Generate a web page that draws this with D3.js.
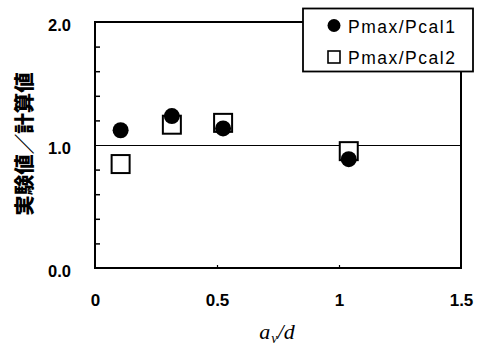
<!DOCTYPE html>
<html><head><meta charset="utf-8">
<script src="https://cdn.jsdelivr.net/npm/d3@7"></script>
<style>body{margin:0;background:#fff}svg{display:block}</style>
</head><body>
<script>
const avd1 = [0.105, 0.315, 0.525, 1.04];
const ratio1 = [1.12, 1.235, 1.135, 0.885];
const avd2 = [0.105, 0.315, 0.525, 1.04];
const ratio2 = [0.845, 1.165, 1.18, 0.95];
const seriesNames = ["Pmax/Pcal1", "Pmax/Pcal2"];
const xTickLabels = [0, 0.5, 1, 1.5];
const yTickLabels = [0, 1, 2];
const yMinorTicks = [0.2,0.4,0.6,0.8,1.2,1.4,1.6,1.8];
const xMinorTicks = [0.5, 1];

const W = 481, H = 347;
const m = {l:95, r:20, t:22, b:79};
const svg = d3.select("body").append("svg").attr("width",W).attr("height",H);
const x = d3.scaleLinear().domain([0,1.5]).range([m.l, W-m.r]);
const y = d3.scaleLinear().domain([0,2]).range([H-m.b, m.t]);
const font = "'Liberation Sans', Arial, sans-serif";

// reference line at 1.0
svg.append("line").attr("x1",x(0)).attr("x2",x(1.5)).attr("y1",Math.round(y(1))+0.5).attr("y2",Math.round(y(1))+0.5)
  .attr("stroke","#000").attr("stroke-width",1.2);

// minor inward ticks
const gy = svg.append("g").attr("transform",`translate(${x(0)},0)`)
  .call(d3.axisLeft(y).tickValues(yMinorTicks).tickSize(-5).tickFormat(""));
gy.select(".domain").remove();
gy.selectAll("line").attr("stroke-width",1.5);
const gx = svg.append("g").attr("transform",`translate(0,${y(0)})`)
  .call(d3.axisBottom(x).tickValues(xMinorTicks).tickSize(-3).tickFormat(""));
gx.select(".domain").remove();
gx.selectAll("line").attr("stroke-width",1.2);

// labels
const ly = svg.append("g").attr("transform",`translate(${x(0)},0)`)
  .call(d3.axisLeft(y).tickValues(yTickLabels).tickSize(0).tickPadding(24).tickFormat(d3.format(".1f")));
ly.select(".domain").remove();
ly.selectAll("text").attr("font-family",font).attr("font-weight","bold").attr("font-size",16.5).attr("dy","0.5em");
const lx = svg.append("g").attr("transform",`translate(0,${y(0)})`)
  .call(d3.axisBottom(x).tickValues(xTickLabels).tickSize(0).tickPadding(26).tickFormat(d=>String(d)));
lx.select(".domain").remove();
lx.selectAll("text").attr("font-family",font).attr("font-weight","bold").attr("font-size",17);

// frame
svg.append("rect").attr("x",x(0)).attr("y",y(2)).attr("width",x(1.5)-x(0)).attr("height",y(0)-y(2))
  .attr("fill","none").attr("stroke","#000").attr("stroke-width",2);

// data: squares then circles
svg.append("g").selectAll("rect").data(avd2.map((v,i)=>[v,ratio2[i]])).join("rect")
  .attr("x",d=>x(d[0])-9).attr("y",d=>y(d[1])-9).attr("width",18).attr("height",18)
  .attr("fill","#fff").attr("stroke","#000").attr("stroke-width",2);
svg.append("g").selectAll("circle").data(avd1.map((v,i)=>[v,ratio1[i]])).join("circle")
  .attr("cx",d=>x(d[0])).attr("cy",d=>y(d[1])).attr("r",8).attr("fill","#000");

// legend
const lg = svg.append("g");
lg.append("rect").attr("x",303).attr("y",8.5).attr("width",170).attr("height",63)
  .attr("fill","#fff").attr("stroke","#000").attr("stroke-width",1.8);
lg.append("circle").attr("cx",334).attr("cy",25.5).attr("r",6.5).attr("fill","#000");
lg.append("rect").attr("x",328).attr("y",51).attr("width",12).attr("height",12)
  .attr("fill","#fff").attr("stroke","#000").attr("stroke-width",1.6);
lg.selectAll("text").data(seriesNames).join("text")
  .attr("x",348).attr("y",(d,i)=>32.5+i*31).text(d=>d)
  .attr("font-family",font).attr("font-size",17.5).attr("letter-spacing",1.5);

// axis titles
const xt = svg.append("text").attr("x",277).attr("y",339).attr("text-anchor","middle")
  .attr("font-family","'Liberation Serif','Times New Roman',serif").attr("font-style","italic").attr("font-size",22);
xt.append("tspan").text("a");
xt.append("tspan").text("v").attr("font-size",14).attr("dy",4).attr("dx",1);
xt.append("tspan").text("/d").attr("dy",-4);

svg.append("text").attr("transform","translate(25,144) rotate(-90)").attr("text-anchor","middle")
  .attr("dy","0.36em").attr("font-family","'Noto Sans CJK JP', sans-serif").attr("font-weight",900)
  .attr("font-size",20.5).text("実験値／計算値");
</script>
</body></html>
